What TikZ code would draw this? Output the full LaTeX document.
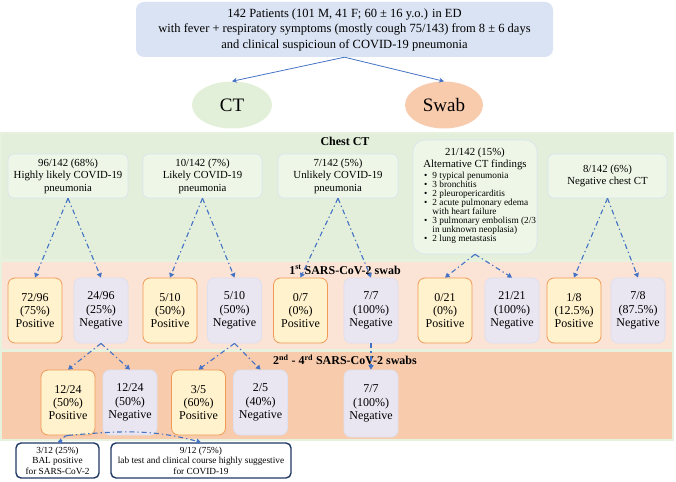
\documentclass[tikz,border=0pt]{standalone}
\usepackage{fontspec}
\setmainfont{Liberation Serif}
\usetikzlibrary{arrows.meta,shapes.geometric}
\definecolor{topfill}{HTML}{DAE3F3}
\definecolor{ctell}{HTML}{E2F0D9}
\definecolor{swabell}{HTML}{F8CBAD}
\definecolor{bandct}{HTML}{E3EFDA}
\definecolor{bandone}{HTML}{FBE3D6}
\definecolor{bandtwo}{HTML}{F8CBAD}
\definecolor{bandline}{HTML}{E6F2DE}
\definecolor{ctfill}{HTML}{EEF7E7}
\definecolor{ctborder}{HTML}{D8E4F0}
\definecolor{posfill}{HTML}{FFF2CC}
\definecolor{posborder}{HTML}{F09A55}
\definecolor{negfill}{HTML}{EAE6F1}
\definecolor{negborder}{HTML}{DDE0F0}
\definecolor{navy}{HTML}{1F3864}
\definecolor{arrowblue}{HTML}{4472C4}
\begin{document}
\begin{tikzpicture}[x=1pt,y=-1pt,
  ctbox/.style={draw=ctborder, fill=ctfill, rounded corners=6pt, line width=0.6pt, minimum width=120pt, minimum height=44pt, inner sep=0pt, align=center, font=\fontsize{10.8}{12.5}\selectfont},
  posbox/.style={draw=posborder, fill=posfill, rounded corners=7pt, line width=0.8pt, minimum width=54pt, minimum height=65pt, inner sep=0pt, align=center, font=\fontsize{12}{13.2}\selectfont},
  negbox/.style={draw=negborder, fill=negfill, rounded corners=7pt, line width=0.8pt, minimum width=54pt, minimum height=65pt, inner sep=0pt, align=center, font=\fontsize{12}{13.2}\selectfont},
  endbox/.style={draw=navy, fill=white, rounded corners=5pt, line width=1.4pt, minimum height=35pt, inner sep=0pt, align=center, font=\fontsize{9.3}{10.5}\selectfont},
  band/.style={draw=bandline, line width=1.2pt},
  title/.style={font=\fontsize{12}{14}\selectfont\bfseries, inner sep=0pt},
  dd/.style={draw=arrowblue, line width=1.1pt, dash pattern=on 5pt off 3pt on 1.3pt off 3pt, -{Triangle[length=4.5pt,width=5pt]}},
  topar/.style={draw=arrowblue, line width=0.8pt, -{Stealth[length=5pt,width=5pt]}}
]
\useasboundingbox (0,0) rectangle (676,481);

% top
\node[fill=topfill, rounded corners=8pt, minimum width=417pt, minimum height=55pt, inner sep=0pt, align=center, font=\fontsize{12.5}{15.5}\selectfont] (top) at (344.5,29.5)
 {142 Patients (101 M, 41 F; 60 ± 16 y.o.) in ED\\with fever + respiratory symptoms (mostly cough 75/143) from 8 ± 6 days\\and clinical suspicioun of COVID-19 pneumonia};
\node[ellipse, fill=ctell, minimum width=80pt, minimum height=47pt, inner sep=0pt, font=\fontsize{19}{22}\selectfont] (ct) at (232,105) {CT};
\node[ellipse, fill=swabell, minimum width=78pt, minimum height=47pt, inner sep=0pt, font=\fontsize{19}{22}\selectfont] (swab) at (444,105) {Swab};
\draw[topar] (top.south) -- (ct.north);
\draw[topar] (top.south) -- (swab.north);

% bands
\fill[bandct] (1,133) rectangle (673,260);
\fill[bandone] (1,261.5) rectangle (673,350);
\fill[bandtwo] (1,351.5) rectangle (673,440);
\draw[band] (1,133) rectangle (673,260);
\draw[band] (1,261.5) rectangle (673,350);
\draw[band] (1,351.5) rectangle (673,440);

\node[title] (t1) at (345,141) {Chest CT};
\node[title] (t2) at (345,270) {1\textsuperscript{st} SARS-CoV-2 swab};
\node[title] (t3) at (345,360) {2\textsuperscript{nd} - 4\textsuperscript{rd} SARS-CoV-2 swabs};

% CT boxes
\node[ctbox] (c1) at (68,176) {96/142 (68\%)\\Highly likely COVID-19\\pneumonia};
\node[ctbox, minimum width=119pt] (c2) at (202.5,176) {10/142 (7\%)\\Likely COVID-19\\pneumonia};
\node[ctbox] (c3) at (338,176) {7/142 (5\%)\\Unlikely COVID-19\\pneumonia};
\node[ctbox, minimum width=124pt, minimum height=114pt, rounded corners=12pt] (c4) at (475,197) {};
\node[ctbox, minimum width=119pt] (c5) at (607.5,176) {8/142 (6\%)\\Negative chest CT};
\node[inner sep=0pt, align=center, font=\fontsize{10.8}{12}\selectfont] (c4t) at (475,159) {21/142 (15\%)\\Alternative CT findings};
\node[anchor=north west, inner sep=0pt, font=\fontsize{9.3}{8.4}\selectfont] (c4l) at (424,171.5)
 {\begin{tabular}{@{}l@{\hspace{5pt}}l@{}}
 \textbullet & 9 typical penumonia\\
 \textbullet & 3 bronchitis\\
 \textbullet & 2 pleuropericarditis\\
 \textbullet & 2 acute pulmonary edema\\
  & with heart failure\\
 \textbullet & 3 pulmonary embolism (2/3\\
  & in unknown neoplasia)\\
 \textbullet & 2 lung metastasis
 \end{tabular}};

% first swab row
\node[posbox] (p1) at (35,310.5) {72/96\\(75\%)\\Positive};
\node[negbox] (n1) at (101,310.5) {24/96\\(25\%)\\Negative};
\node[posbox] (p2) at (170,310.5) {5/10\\(50\%)\\Positive};
\node[negbox] (n2) at (234.5,310.5) {5/10\\(50\%)\\Negative};
\node[posbox] (p3) at (300.5,310.5) {0/7\\(0\%)\\Positive};
\node[negbox] (n3) at (371,310.5) {7/7\\(100\%)\\Negative};
\node[posbox] (p4) at (445,310.5) {0/21\\(0\%)\\Positive};
\node[negbox] (n4) at (512,310.5) {21/21\\(100\%)\\Negative};
\node[posbox] (p5) at (574,310.5) {1/8\\(12.5\%)\\Positive};
\node[negbox] (n5) at (638,310.5) {7/8\\(87.5\%)\\Negative};

% second swab row
\node[posbox] (q1) at (68,402.5) {12/24\\(50\%)\\Positive};
\node[negbox] (m1) at (130,402.5) {12/24\\(50\%)\\Negative};
\node[posbox] (q2) at (198.5,402.5) {3/5\\(60\%)\\Positive};
\node[negbox] (m2) at (260.5,402.5) {2/5\\(40\%)\\Negative};
\node[negbox, minimum height=67pt] (m3) at (371,403.5) {7/7\\(100\%)\\Negative};

% bottom
\node[endbox, minimum width=83pt] (bal) at (57.5,460.5) {3/12 (25\%)\\BAL positive\\for SARS-CoV-2};
\node[endbox, minimum width=180pt] (lab) at (201,460.5) {9/12 (75\%)\\lab test and clinical course highly suggestive\\for COVID-19};

% connectors
\draw[dd] (c1.south) -- (p1.north);
\draw[dd] (c1.south) -- (n1.north);
\draw[dd] (c2.south) -- (p2.north);
\draw[dd] (c2.south) -- (n2.north);
\draw[dd] (c3.south) -- (p3.north);
\draw[dd] (c3.south) -- (n3.north);
\draw[dd] (c4.south) -- (p4.north);
\draw[dd] (c4.south) -- (n4.north);
\draw[dd] (c5.south) -- (p5.north);
\draw[dd] (c5.south) -- (n5.north);
\draw[dd] (n1.south) -- (q1.north);
\draw[dd] (n1.south) -- (m1.north);
\draw[dd] (n2.south) -- (q2.north);
\draw[dd] (n2.south) -- (m2.north);
\draw[dd] (n3.south) -- (m3.north);
\draw[dd] (q1.south) to[out=180, in=20] (bal.north);
\draw[dd] (q1.south) to[out=5, in=165] (lab.north);
\end{tikzpicture}
\end{document}
